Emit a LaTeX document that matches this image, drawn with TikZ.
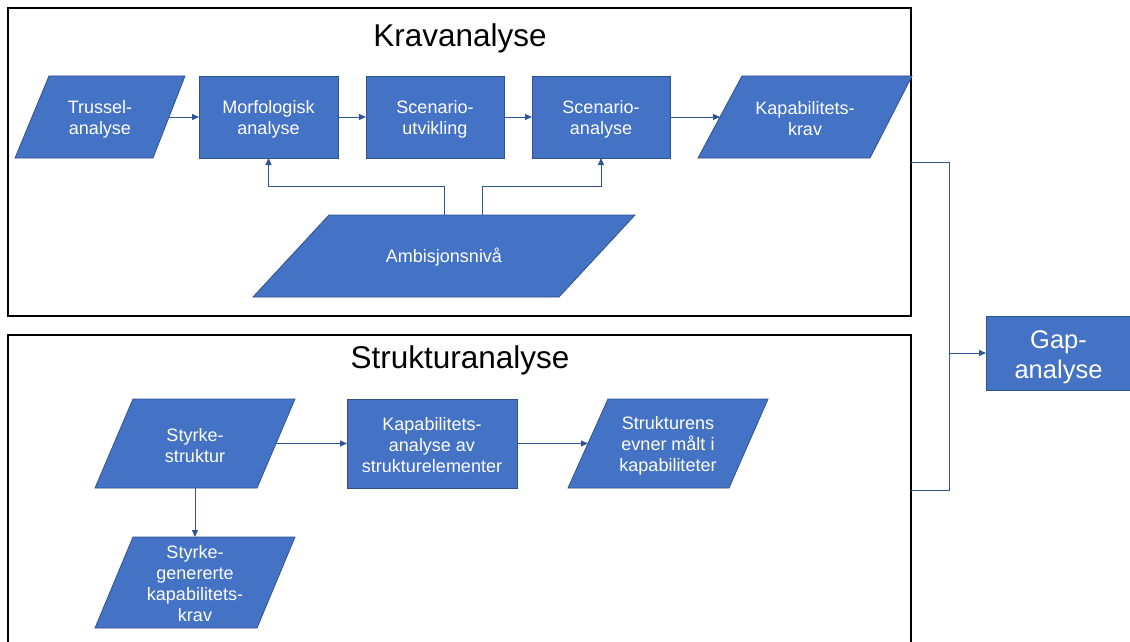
\documentclass[tikz,border=0pt]{standalone}
\usepackage{fontspec}
\setmainfont{Liberation Sans}
\usetikzlibrary{arrows.meta}
\definecolor{boxblue}{HTML}{4472C4}
\definecolor{edgeblue}{HTML}{2F528F}
\definecolor{linkblue}{HTML}{2F5597}
\tikzset{
  procbox/.style={fill=boxblue, draw=edgeblue, line width=0.8pt, inner sep=0pt, outer sep=0pt,
    label={[shapetext, yshift=-2pt]center:#1}},
  datashape/.style={fill=boxblue, draw=edgeblue, line width=0.8pt},
  shapetext/.style={text=white, align=center, inner sep=0pt, font=\fontsize{18}{21}\selectfont},
  bigtext/.style={text=white, align=center, inner sep=0pt, font=\fontsize{25.5}{30}\selectfont},
  link/.style={draw=linkblue, line width=1pt, -{Triangle[length=7pt,width=6pt]}},
  plainlink/.style={draw=linkblue, line width=1pt},
  frame/.style={draw=black, line width=2.5pt, inner sep=0pt, outer sep=0pt},
  title/.style={font=\fontsize{31.5}{36}\selectfont, inner sep=0pt}
}
\begin{document}
\begin{tikzpicture}[x=1pt,y=-1pt]
\useasboundingbox (0,0) rectangle (1130,642);
\clip (0,0) rectangle (1130,642);
\fill[white] (0,0) rectangle (1130,642);

% frames
\node[frame, minimum width=903pt, minimum height=308pt] (krav) at (459.5,162) {};
\node[frame, minimum width=903pt, minimum height=310pt] (struk) at (459.5,490) {};
\node[title, anchor=base] (kravtitle) at (460,47) {Kravanalyse};
\node[title, anchor=base] (struktitle) at (460,368) {Strukturanalyse};

% Kravanalyse row
\fill[datashape] (49,76) -- (185,76) -- (153,158) -- (15,158) -- cycle;
\node[shapetext] (truss) at (100,119) {Trussel-\\analyse};
\coordinate (truss-e) at (169,117);

\node[procbox={Morfologisk\\analyse}, minimum width=139pt, minimum height=82pt] (morf) at (268.5,117) {};
\node[procbox={Scenario-\\utvikling}, minimum width=138pt, minimum height=82pt] (scu) at (435,117) {};
\node[procbox={Scenario-\\analyse}, minimum width=138pt, minimum height=82pt] (sca) at (601,117) {};

\fill[datashape] (742,76) -- (912,76) -- (870,158) -- (698,158) -- cycle;
\node[shapetext] (kapkrav) at (805,119) {Kapabilitets-\\krav};
\coordinate (kapkrav-w) at (720,117);

\fill[datashape] (329,215) -- (635,215) -- (559,297) -- (253,297) -- cycle;
\node[shapetext] (amb) at (444,257) {Ambisjonsnivå};
\coordinate (ambL) at (444,215);
\coordinate (ambR) at (482,215);

\draw[link] (truss-e) -- (morf.west);
\draw[link] (morf.east) -- (scu.west);
\draw[link] (scu.east) -- (sca.west);
\draw[link] (sca.east) -- (kapkrav-w);
\draw[link] (ambL) -- ++(0,-29) -| (morf.south);
\draw[link] (ambR) -- ++(0,-29) -| (sca.south);

% Strukturanalyse
\fill[datashape] (133,399) -- (295,399) -- (257,488) -- (95,488) -- cycle;
\node[shapetext] (styrke) at (195,445.5) {Styrke-\\struktur};
\coordinate (styrke-e) at (276,443.5);
\coordinate (styrke-s) at (195,488);

\node[procbox={Kapabilitets-\\analyse av\\strukturelementer}, minimum width=170pt, minimum height=89pt] (kapan) at (432,443.5) {};

\fill[datashape] (608,399) -- (768,399) -- (729,488) -- (568,488) -- cycle;
\node[shapetext] (strukevne) at (668,445.5) {Strukturens\\evner målt i\\kapabiliteter};
\coordinate (strukevne-w) at (588,443.5);

\fill[datashape] (133,537) -- (295,537) -- (257,628) -- (95,628) -- cycle;
\node[shapetext] (sgen) at (195,584) {Styrke-\\genererte\\kapabilitets-\\krav};
\coordinate (sgen-n) at (195,537);

\draw[link] (styrke-e) -- (kapan.west);
\draw[link] (kapan.east) -- (strukevne-w);
\draw[link] (styrke-s) -- (sgen-n);

% Gap-analyse
\node[fill=boxblue, draw=edgeblue, line width=0.8pt, inner sep=0pt, outer sep=0pt,
      minimum width=145pt, minimum height=74pt,
      label={[bigtext, yshift=-4pt]center:Gap-\\analyse}] (gap) at (1058.5,353) {};
\coordinate (join) at (949,353);
\draw[plainlink] (krav.east) -| (join) |- (struk.east);
\draw[link] (join) -- (gap.west);
\end{tikzpicture}
\end{document}
